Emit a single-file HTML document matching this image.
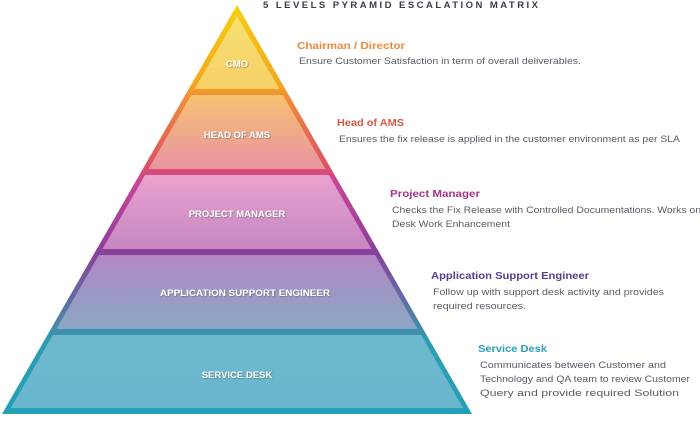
<!DOCTYPE html>
<html><head><meta charset="utf-8"><style>
html,body{margin:0;padding:0;background:#fff;overflow:hidden;}
svg{display:block;}
</style></head><body>
<svg width="700" height="423" viewBox="0 0 700 423" xmlns="http://www.w3.org/2000/svg" font-family="Liberation Sans, sans-serif">
<defs>
<linearGradient id="bd" x1="0" y1="5" x2="0" y2="414" gradientUnits="userSpaceOnUse">
<stop offset="0" stop-color="#f6cf10"/>
<stop offset="0.19" stop-color="#f3a820"/>
<stop offset="0.23" stop-color="#f08a38"/>
<stop offset="0.40" stop-color="#dc4f6a"/>
<stop offset="0.43" stop-color="#c8449a"/>
<stop offset="0.60" stop-color="#8a3f98"/>
<stop offset="0.78" stop-color="#4a86a8"/>
<stop offset="0.82" stop-color="#2e9cb2"/>
<stop offset="1" stop-color="#23a0b6"/>
</linearGradient>
<linearGradient id="f1" x1="0" y1="0" x2="0" y2="1"><stop offset="0" stop-color="#f8e070"/><stop offset="1" stop-color="#f5d068"/></linearGradient>
<linearGradient id="f2" x1="0" y1="0" x2="0" y2="1"><stop offset="0" stop-color="#f6c070"/><stop offset="1" stop-color="#e995a2"/></linearGradient>
<linearGradient id="f3" x1="0" y1="0" x2="0" y2="1"><stop offset="0" stop-color="#eaa2ce"/><stop offset="1" stop-color="#c586c2"/></linearGradient>
<linearGradient id="f4" x1="0" y1="0" x2="0" y2="1"><stop offset="0" stop-color="#b288c6"/><stop offset="1" stop-color="#8aa6c4"/></linearGradient>
<linearGradient id="f5" x1="0" y1="0" x2="0" y2="1"><stop offset="0" stop-color="#6db8cd"/><stop offset="1" stop-color="#6ab8cf"/></linearGradient>
<filter id="sh" x="-10%" y="-50%" width="120%" height="200%"><feDropShadow dx="0.8" dy="0.8" stdDeviation="0.6" flood-color="#555" flood-opacity="0.6"/></filter>
</defs>
<polygon points="237,5 472,414 2,414" fill="url(#bd)"/>
<polygon points="237,16 279.4,89 194.6,89" fill="url(#f1)"/>
<polygon points="191.2,95 282.8,95 325.5,169 148.5,169" fill="url(#f2)"/>
<polygon points="145.1,175 328.9,175 371.5,249 102.5,249" fill="url(#f3)"/>
<polygon points="99,255 375,255 417.6,329 56.4,329" fill="url(#f4)"/>
<polygon points="52.9,335 421.1,335 463.1,408 10.9,408" fill="url(#f5)"/>
<g fill="#fff" font-weight="bold" font-size="9.5" text-anchor="middle" filter="url(#sh)">
<text x="237" y="67">CMO</text>
<text x="237" y="138">HEAD OF AMS</text>
<text x="237" y="217">PROJECT MANAGER</text>
<text x="245" y="296" textLength="170" lengthAdjust="spacingAndGlyphs">APPLICATION SUPPORT ENGINEER</text>
<text x="237" y="378">SERVICE DESK</text>
</g>
<text x="263" y="8" font-size="9.5" font-weight="bold" fill="#3a3b4a" textLength="275" lengthAdjust="spacing">5 LEVELS PYRAMID ESCALATION MATRIX</text>
<g font-size="10.5" font-weight="bold" lengthAdjust="spacingAndGlyphs">
<text x="297" y="49" fill="#ec8a3c" textLength="108" lengthAdjust="spacingAndGlyphs">Chairman / Director</text>
<text x="337" y="126" fill="#d85848" textLength="67" lengthAdjust="spacingAndGlyphs">Head of AMS</text>
<text x="390" y="197" fill="#a8348c" textLength="90" lengthAdjust="spacingAndGlyphs">Project Manager</text>
<text x="431" y="279" fill="#5a3c8c" textLength="158" lengthAdjust="spacingAndGlyphs">Application Support Engineer</text>
<text x="478" y="352" fill="#2aa0b8" textLength="69" lengthAdjust="spacingAndGlyphs">Service Desk</text>
</g>
<g font-size="9.2" fill="#5a5a66">
<text x="299" y="64" textLength="282" lengthAdjust="spacingAndGlyphs">Ensure Customer Satisfaction in term of overall deliverables.</text>
<text x="339" y="142" textLength="341" lengthAdjust="spacingAndGlyphs">Ensures the fix release is applied in the customer environment as per SLA</text>
<text x="392" y="213" textLength="309" lengthAdjust="spacingAndGlyphs">Checks the Fix Release with Controlled Documentations. Works on</text>
<text x="392" y="227" textLength="118" lengthAdjust="spacingAndGlyphs">Desk Work Enhancement</text>
<text x="433" y="295" textLength="231" lengthAdjust="spacingAndGlyphs">Follow up with support desk activity and provides</text>
<text x="433" y="309" textLength="93" lengthAdjust="spacingAndGlyphs">required resources.</text>
<text x="480" y="368" textLength="186" lengthAdjust="spacingAndGlyphs">Communicates between Customer and</text>
<text x="480" y="382" textLength="210" lengthAdjust="spacingAndGlyphs">Technology and QA team to review Customer</text>
<text x="480" y="396" textLength="199" lengthAdjust="spacingAndGlyphs">Query and provide required Solution</text>
</g>
</svg>
</body></html>
